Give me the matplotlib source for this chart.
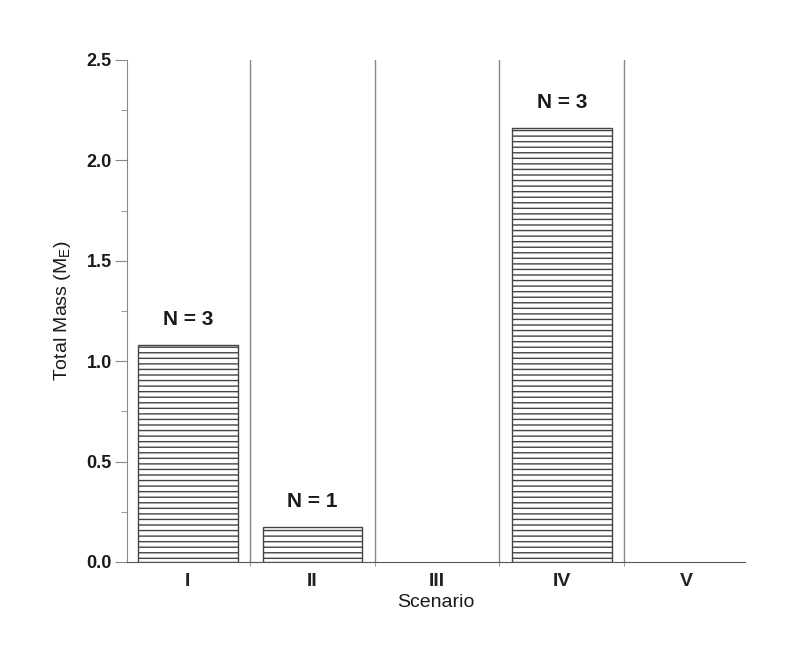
import matplotlib.pyplot as plt
import numpy as np

scenarios = ['I', 'II', 'III', 'IV', 'V']
total_mass = [1.08, 0.175, 0.0, 2.16, 0.0]
n_planets = ['N = 3', 'N = 1', '', 'N = 3', '']

plt.rcParams['font.family'] = ['Liberation Sans', 'DejaVu Sans']
plt.rcParams['hatch.color'] = '#333333'
plt.rcParams['hatch.linewidth'] = 1.0

fig = plt.figure(figsize=(7.95, 6.68), dpi=100)
ax = fig.add_axes([0.16, 0.1587, 0.777, 0.7515])

x = np.arange(1, len(scenarios) + 1)
for xi, h, lab in zip(x, total_mass, n_planets):
    if h > 0:
        ax.bar(xi, h, width=0.8, facecolor='white', edgecolor='#444444',
               linewidth=1.0, hatch='---')
        ax.text(xi, h + 0.08, lab, ha='center', va='bottom', fontsize=15,
                fontweight='bold', color='#1a1a1a')

# separators between scenarios
for xs in x[:-1] + 0.5:
    ax.axvline(xs, color='#888888', linewidth=1.0)

ax.set_xlim(0.513, 5.47)
ax.set_ylim(0, 2.5)
ax.set_xticks(x)
ax.set_xticklabels(scenarios, fontsize=14, fontweight='bold', color='#222222')
ax.set_xticks(x[:-1] + 0.5, minor=True)
ax.tick_params(axis='x', which='major', length=0, pad=8)
ax.tick_params(axis='x', which='minor', length=3, color='#888888')
ax.set_yticks(np.arange(0, 2.51, 0.5))
ax.set_yticks(np.arange(0.25, 2.5, 0.5), minor=True)
ax.set_yticklabels(['%.1f' % v for v in np.arange(0, 2.51, 0.5)],
                   fontsize=13, fontweight='bold', color='#1a1a1a')
ax.tick_params(axis='y', which='major', length=9, color='#888888',
               direction='out', pad=2)
ax.tick_params(axis='y', which='minor', length=4, color='#888888', direction='out')

for s in ['top', 'right']:
    ax.spines[s].set_visible(False)
ax.spines['left'].set_color('#888888')
ax.spines['bottom'].set_color('#555555')

ax.set_xlabel('Scenario', fontsize=14, labelpad=3, color='#1a1a1a')
ax.set_ylabel(r'Total Mass (M$_\mathregular{E}$)', fontsize=14, labelpad=10,
              color='#1a1a1a')

fig.savefig('out.png', dpi=100)
